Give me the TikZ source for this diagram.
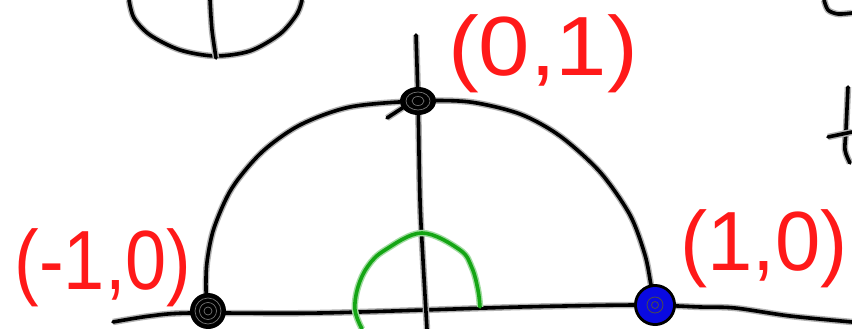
\documentclass[tikz,border=0pt]{standalone}
\usepackage{fontspec}
\setmainfont{Liberation Sans}
\usepackage{tikz}
\usetikzlibrary{positioning}

\definecolor{penred}{RGB}{255,25,25}
\definecolor{pengreen}{RGB}{20,165,20}
\definecolor{penblue}{RGB}{10,10,225}

\begin{document}
\begin{tikzpicture}[
    x=1pt, y=-1pt,
    pen/.style={line width=3.6pt, line cap=round, line join=round,
        preaction={draw=black!30, line width=6.5pt}},
    greenpen/.style={draw=pengreen, line width=3.6pt, line cap=round, line join=round,
        preaction={draw=pengreen!40, line width=6.5pt}},
    dot/.style={circle, inner sep=0pt},
    lbl/.style={text=penred, inner sep=0pt, font=\fontsize{84}{84}\selectfont}
]
\useasboundingbox (0,0) rectangle (852,329);
\clip (0,0) rectangle (852,329);

% points on the unit circle
\node[dot] (pm) at (208,311) {};
\node[dot] (pt) at (418,101) {};
\node[dot] (pp) at (655,305) {};

% axes
\draw[pen] plot[smooth] coordinates {(113,322) (150,316) (190,313) (320,313) (520,307)
    (640,305) (700,307) (735,308) (790,316) (852,322)};
\draw[pen] plot[smooth] coordinates {(416,35) (418,100) (420,200) (423,260) (427,329)};

% upper half circle
\draw[pen] plot[smooth] coordinates {(pm) (206,290) (207,262) (214,228) (232,188)
    (262,152) (300,125) (350,107) (pt) (470,102) (520,114) (560,136) (600,172)
    (630,215) (645,255) (651,285) (pp)};
\draw[pen] (387,118) -- (410,103);

% angle
\draw[greenpen] plot[smooth, tension=0.6] coordinates {(362,329) (355,310) (358,287)
    (368,266) (385,250) (422,233) (460,250) (472,268) (478,290) (480,307)};

% dots
\fill[black] (pm) circle (18);
\draw[black!55, line width=0.7pt] (pm) circle (13) (pm) circle (8.5) (pm) circle (4);
\fill[black] (pt) ellipse (18 and 14);
\draw[black!55, line width=0.7pt] (pt) ellipse (12 and 9) (pt) ellipse (6 and 4.5);
\fill[black] (pp) circle (21);
\fill[penblue] (pp) circle (18);
\draw[black!70, line width=0.8pt] (pp) circle (8) (pp) circle (3.5);

% labels
\node[lbl, xscale=1.1] (lblt) at (543,54) {(0,1)};
\node[lbl, xscale=0.88] (lblm) at (103,268) {(-1,0)};
\node[lbl, xscale=0.97] (lblp) at (764,249) {(1,0)};

% leftovers of other drawings
\draw[pen] plot[smooth] coordinates {(129,0) (134,18) (150,35) (180,50) (215,56)
    (250,51) (280,34) (297,14) (302,0)};
\draw[pen] plot[smooth] coordinates {(210,0) (212,30) (216,58)};
\draw[pen] plot[smooth] coordinates {(824,0) (828,10) (838,14) (852,13)};
\draw[pen] plot[smooth] coordinates {(848,87) (846,130) (845,150) (850,163)};
\draw[pen] (828,137) -- (852,132);
\end{tikzpicture}
\end{document}
